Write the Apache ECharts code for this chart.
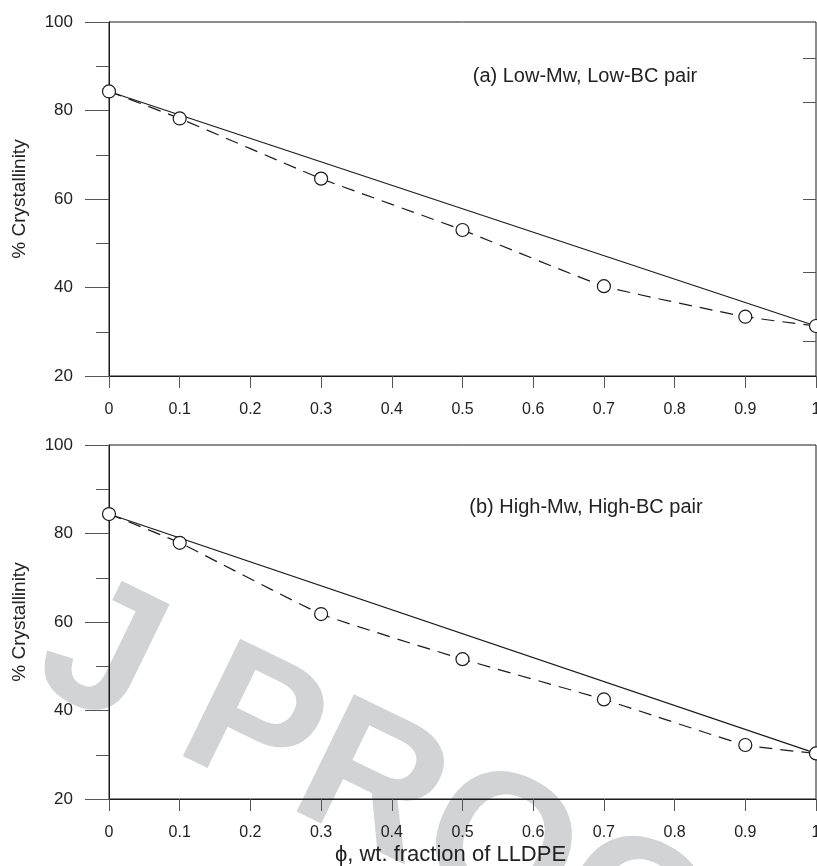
<!DOCTYPE html>
<html>
<head>
<meta charset="utf-8">
<script src="https://cdn.jsdelivr.net/npm/echarts@6/dist/echarts.min.js"></script>
<style>
html,body{margin:0;padding:0;background:#fff;}
#chart{width:817px;height:866px;}
</style>
</head>
<body>
<div id="chart"></div>
<script>
// ---- data ----
const phi = [0, 0.1, 0.3, 0.5, 0.7, 0.9, 1.0];
const crystA = [84.3, 78.2, 64.6, 53.0, 40.3, 33.4, 31.3];
const crystB = [84.4, 77.9, 61.8, 51.6, 42.5, 32.2, 30.3];
const linePhi = [0, 1];
const additivityA = [84.3, 31.3];
const additivityB = [84.4, 30.3];
const rightTicksA = [91.9, 81.9, 60, 43.5, 27.9];
const panelTitles = ['(a) Low-Mw, Low-BC pair', '(b) High-Mw, High-BC pair'];
const yName = '% Crystallinity';
const xName = '\u03D5, wt. fraction of LLDPE';
const watermark = 'J PROOF';

const FONT = '"Liberation Sans", Arial, Helvetica, sans-serif';
const INK = '#1a1a1a';
const TICK = '#555';

function zip(xs, ys) { return xs.map((x, i) => [x, ys[i]]); }

function xAxis(gi, withName) {
  return {
    type: 'value', gridIndex: gi, min: 0, max: 1, interval: 0.1,
    axisLine: { show: true, lineStyle: { color: INK, width: 1 } },
    axisTick: { show: true, length: 12, lineStyle: { color: TICK, width: 1 } },
    axisLabel: { margin: 26, fontFamily: FONT, fontSize: 16, color: '#222' },
    splitLine: { show: false },
    name: withName ? xName : '',
    nameLocation: 'middle', nameGap: 45,
    nameTextStyle: { fontFamily: FONT, fontSize: 22, color: '#222', padding: [0, 24, 0, 0] }
  };
}
function yAxis(gi) {
  return {
    type: 'value', gridIndex: gi, min: 20, max: 100, interval: 20,
    axisLine: { show: true, lineStyle: { color: INK, width: 1 } },
    axisTick: { show: true, length: 24, lineStyle: { color: TICK, width: 1 } },
    minorTick: { show: true, splitNumber: 2, length: 13, lineStyle: { color: TICK, width: 1 } },
    axisLabel: { margin: 36, fontFamily: FONT, fontSize: 17, color: '#222' },
    splitLine: { show: false },
    name: yName, nameLocation: 'middle', nameGap: 80,
    nameTextStyle: { fontFamily: FONT, fontSize: 19, color: '#222' }
  };
}

const dataSeries = (gi, data) => ({
  type: 'line', xAxisIndex: gi, yAxisIndex: gi, data: data,
  smooth: 0.12, symbol: 'circle', symbolSize: 13, clip: false,
  lineStyle: { color: INK, width: 1.2, type: [13, 8] },
  itemStyle: { color: '#fff', borderColor: INK, borderWidth: 1.2 },
  z: 3
});
const lineSeries = (gi, data) => ({
  type: 'line', xAxisIndex: gi, yAxisIndex: gi, data: data,
  symbol: 'none', lineStyle: { color: INK, width: 1.2 }, z: 2
});

const gridBase = { left: 109, right: 1, height: 354, show: true, borderColor: INK, borderWidth: 1,
  backgroundColor: 'transparent', containLabel: false, outerBoundsMode: 'none' };

const chart = echarts.init(document.getElementById('chart'), null, { renderer: 'canvas' });
chart.setOption({
  backgroundColor: '#fff',
  animation: false,
  grid: [
    Object.assign({}, gridBase, { top: 22 }),
    Object.assign({}, gridBase, { top: 445 })
  ],
  xAxis: [xAxis(0, false), xAxis(1, true)],
  yAxis: [
    yAxis(0), yAxis(1),
    {
      type: 'value', gridIndex: 0, position: 'right', min: 20, max: 100,
      axisLine: { show: false },
      axisLabel: { show: false },
      splitLine: { show: false },
      axisTick: { show: true, inside: true, length: 13, customValues: rightTicksA, lineStyle: { color: TICK, width: 1 } }
    }
  ],
  series: [
    lineSeries(0, zip(linePhi, additivityA)),
    dataSeries(0, zip(phi, crystA)),
    lineSeries(1, zip(linePhi, additivityB)),
    dataSeries(1, zip(phi, crystB))
  ],
  graphic: [
    {
      type: 'text', x: 52, y: 634, rotation: -26 * Math.PI / 180, z: -10, silent: true,
      style: { text: watermark, font: 'bold 190px ' + FONT, fill: '#d2d3d5', textAlign: 'left', textVerticalAlign: 'middle' }
    },
    {
      type: 'text', x: 585, y: 76, z: 5,
      style: { text: panelTitles[0], font: '20px ' + FONT, fill: '#222', textAlign: 'center', textVerticalAlign: 'middle' }
    },
    {
      type: 'text', x: 586, y: 507, z: 5,
      style: { text: panelTitles[1], font: '20px ' + FONT, fill: '#222', textAlign: 'center', textVerticalAlign: 'middle' }
    }
  ]
});
</script>
</body>
</html>
